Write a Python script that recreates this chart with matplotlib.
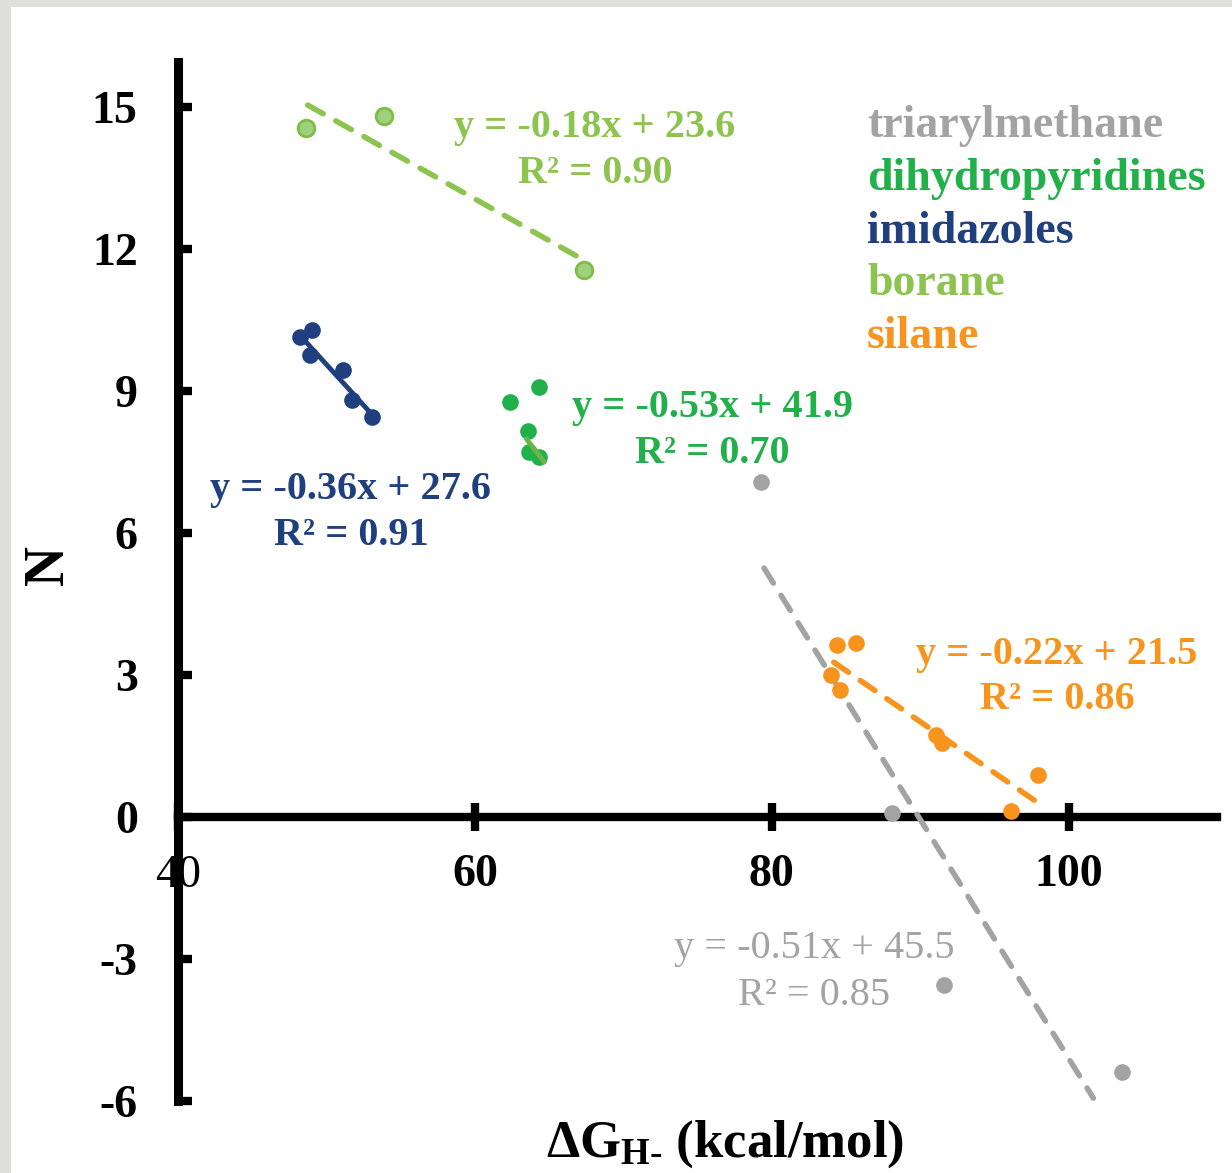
import matplotlib
matplotlib.use("Agg")
import matplotlib.pyplot as plt
from matplotlib.patches import Rectangle

plt.rcParams['font.family'] = ['Liberation Serif', 'DejaVu Serif']
plt.rcParams['font.weight'] = 'bold'
plt.rcParams['mathtext.fontset'] = 'custom'
plt.rcParams['mathtext.rm'] = 'Liberation Serif:bold'
plt.rcParams['mathtext.it'] = 'Liberation Serif:bold'
plt.rcParams['mathtext.bf'] = 'Liberation Serif:bold'

# ---------------- data ----------------
tri_x = [79.27, 88.08, 91.58, 103.62]
tri_y = [7.08, 0.08, -3.55, -5.39]
tri_fit_x = [79.48, 101.67]
tri_fit_y = [5.26, -5.94]

dhp_x = [62.39, 64.34, 63.60, 63.67, 64.34]
dhp_y = [8.77, 9.09, 8.16, 7.71, 7.61]
dhp_fit_x = [63.47, 64.68]
dhp_fit_y = [7.99, 7.50]

imi_x = [48.20, 49.01, 48.88, 51.10, 51.70, 53.05]
imi_y = [10.14, 10.29, 9.76, 9.44, 8.81, 8.45]
imi_fit_x = [48.20, 53.05]
imi_fit_y = [10.18, 8.51]

bor_x = [48.61, 53.85, 67.37]
bor_y = [14.56, 14.81, 11.56]
bor_fit_x = [48.74, 67.37]
bor_fit_y = [15.04, 11.76]

sil_x = [84.38, 85.66, 83.98, 84.59, 91.04, 91.45, 97.97, 96.09]
sil_y = [3.63, 3.68, 3.00, 2.68, 1.73, 1.56, 0.89, 0.13]
sil_fit_x = [84.18, 98.17]
sil_fit_y = [3.27, 0.25]

series_names = ["triarylmethane", "dihydropyridines", "imidazoles", "borane", "silane"]
eq_text = ["y = -0.51x + 45.5", "y = -0.53x + 41.9", "y = -0.36x + 27.6",
           "y = -0.18x + 23.6", "y = -0.22x + 21.5"]
r2_text = ["R² = 0.85", "R² = 0.70", "R² = 0.91", "R² = 0.90", "R² = 0.86"]

x_ticks = [40, 60, 80, 100]
y_ticks = [-6, -3, 0, 3, 6, 9, 12, 15]

# ---------------- style ----------------
C_TRI = '#a3a3a3'
C_DHP = '#22b04b'
C_IMI = '#1f3f7f'
C_BOR = '#8cc44f'
C_SIL = '#f7941d'

W, H = 1232, 1173
fig = plt.figure(figsize=(W / 100, H / 100), dpi=100)
fig.patch.set_facecolor('#dfe0db')
fig.add_artist(Rectangle((11 / W, 0), 1, 1 - 7 / H, transform=fig.transFigure,
                         facecolor='white', edgecolor='none', zorder=-10))

ax = fig.add_axes([178 / W, 1 - 1101 / H, 1039 / W, 1039 / H])
ax.patch.set_alpha(0)
ax.set_xlim(40, 110)
ax.set_ylim(-6, 15.95)

ms = 12
dash = (3.2, 2.6)
# triarylmethane
ax.plot(tri_fit_x, tri_fit_y, color=C_TRI, lw=4, dashes=dash, dash_capstyle='round', zorder=2)
ax.plot(tri_x, tri_y, 'o', color=C_TRI, ms=ms, mec='none', zorder=3)
# dihydropyridines
ax.plot(dhp_x, dhp_y, 'o', color=C_DHP, ms=ms, mec='none', zorder=3)
ax.plot(dhp_fit_x, dhp_fit_y, color='#6ab54a', lw=3.5, solid_capstyle='round', zorder=4)
# imidazoles
ax.plot(imi_fit_x, imi_fit_y, color=C_IMI, lw=3.5, solid_capstyle='round', zorder=2)
ax.plot(imi_x, imi_y, 'o', color=C_IMI, ms=ms, mec='none', zorder=3)
# borane
ax.plot(bor_fit_x, bor_fit_y, color=C_BOR, lw=4, dashes=dash, dash_capstyle='round', zorder=2)
ax.plot(bor_x, bor_y, 'o', color='#9fd07e', ms=ms, mec='#7dbd45', mew=2, zorder=3)
# silane
ax.plot(sil_fit_x, sil_fit_y, color=C_SIL, lw=4, dashes=dash, dash_capstyle='round', zorder=2)
ax.plot(sil_x, sil_y, 'o', color=C_SIL, ms=ms, mec='none', zorder=3)

# axes / spines
for s in ['top', 'right']:
    ax.spines[s].set_visible(False)
ax.spines['bottom'].set_position(('data', 0))
ax.spines['left'].set_linewidth(6.5)
ax.spines['bottom'].set_linewidth(6)
ax.spines['left'].set_zorder(1)
ax.spines['bottom'].set_zorder(1)

ax.set_xticks(x_ticks)
ax.set_yticks(y_ticks)
ax.set_xticklabels([str(v) for v in x_ticks])
ax.set_yticklabels([str(v) for v in y_ticks])
ax.tick_params(axis='y', direction='in', length=10, width=6, pad=29, labelsize=33)
ax.tick_params(axis='x', direction='inout', length=20, width=6, pad=17, labelsize=33)
ax.get_xticklabels()[0].set_fontweight('normal')

ax.set_ylabel('N', fontsize=40, fontweight='bold')
ax.yaxis.set_label_coords(-0.099, 0.516)
ax.set_xlabel('ΔG$_{\\mathregular{H\u2010}}$ (kcal/mol)', fontsize=38, fontweight='bold')
ax.xaxis.set_label_coords(0.527, -0.017)


def fx(px):
    return px / W


def fy(py):
    return 1 - py / H


# legend-like colored names
colors = [C_TRI, C_DHP, C_IMI, C_BOR, C_SIL]
baselines = [137, 190, 243, 295, 348]
for name, c, b in zip(series_names, colors, baselines):
    fig.text(fx(867), fy(b), name, color=c, fontsize=33, fontweight='bold',
             ha='left', va='baseline')

# equations
eq_pos = [(814, 958, 1005), (712, 417, 463), (351, 499, 545), (595, 137, 183), (1057, 664, 709)]
eq_weight = ['normal', 'bold', 'bold', 'bold', 'bold']
for t1, t2, c, (xc, b1, b2), w in zip(eq_text, r2_text, colors, eq_pos, eq_weight):
    fig.text(fx(xc), fy(b1), t1, color=c, fontsize=29, fontweight=w, ha='center', va='baseline')
    fig.text(fx(xc), fy(b2), t2, color=c, fontsize=29, fontweight=w, ha='center', va='baseline')

fig.savefig('out.png', dpi=100, facecolor=fig.get_facecolor())
